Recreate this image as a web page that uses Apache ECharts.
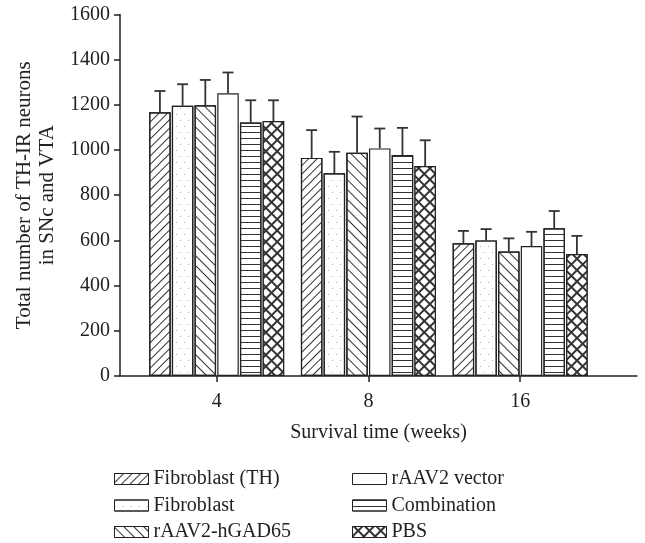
<!DOCTYPE html>
<html lang="en">
<head>
  <meta charset="UTF-8">
  <title>TH-IR neurons</title>
  <script src="https://cdn.jsdelivr.net/npm/echarts@6.0.0/dist/echarts.min.js"></script>
</head>
<body style="margin: 0">
  <div id="chart" style="width: 645px; height: 543px"></div>

  <script>
    // survival time (weeks), one x position per group
    let weeks = ['4', '8', '16']
    let groupPos = [1, 2, 3]
    let names = ['Fibroblast (TH)', 'Fibroblast', 'rAAV2-hGAD65', 'rAAV2 vector', 'Combination', 'PBS']

    // means and upper error (SEM)
    let fibroblastTH = [1167, 965, 587]
    let fibroblastTHErr = [94, 123, 55]
    let fibroblast = [1196, 897, 600]
    let fibroblastErr = [95, 95, 50]
    let gad65 = [1198, 988, 551]
    let gad65Err = [112, 160, 58]
    let vector = [1251, 1007, 575]
    let vectorErr = [92, 88, 63]
    let combination = [1122, 978, 654]
    let combinationErr = [98, 120, 76]
    let pbs = [1128, 929, 540]
    let pbsErr = [92, 114, 80]

    let yTicks = [0, 200, 400, 600, 800, 1000, 1200, 1400, 1600]

    let means = [fibroblastTH, fibroblast, gad65, vector, combination, pbs]
    let errs = [fibroblastTHErr, fibroblastErr, gad65Err, vectorErr, combinationErr, pbsErr]

    const BAR_W = 21.5
    const BAR_GAP = 1.2
    const CAP = 11
    const FONT = '"Liberation Serif", "Times New Roman", serif'

    // fill patterns (decals) for each group
    let decals = [
      { symbol: 'rect', symbolSize: 1, color: '#333', dashArrayX: [1, 0], dashArrayY: [1, 5], rotation: -Math.PI / 4 },
      { symbol: 'rect', symbolSize: 1, color: '#aaa', dashArrayX: [[1, 7], [0, 4, 1, 3]], dashArrayY: [1, 5] },
      { symbol: 'rect', symbolSize: 1, color: '#333', dashArrayX: [1, 0], dashArrayY: [1, 6], rotation: Math.PI / 4 },
      null,
      { symbol: 'rect', symbolSize: 1, color: '#333', dashArrayX: [1, 0], dashArrayY: [1, 5] },
      { symbol: 'rect', symbolSize: 1, color: '#fff', backgroundColor: '#333', dashArrayX: [6, 2], dashArrayY: [6, 2], rotation: Math.PI / 4 }
    ]

    let dom = document.getElementById('chart')
    let myChart = echarts.init(dom, null, { renderer: 'canvas' })

    let barSeries = names.map(function (name, k) {
      let style = { color: '#fff', borderColor: '#222', borderWidth: 1.2 }
      if (decals[k]) style.decal = decals[k]
      return {
        type: 'bar',
        name: name,
        data: groupPos.map(function (x, i) { return [x, means[k][i]] }),
        barWidth: BAR_W,
        barGap: (BAR_GAP / BAR_W * 100) + '%',
        itemStyle: style,
        emphasis: { disabled: true }
      }
    })

    // error bar rows: [x, mean, top, series index]
    let errRows = []
    names.forEach(function (name, k) {
      groupPos.forEach(function (x, i) {
        errRows.push([x, means[k][i], means[k][i] + errs[k][i], k])
      })
    })

    let errorSeries = {
      type: 'custom',
      name: 'error',
      data: errRows,
      encode: { x: 0, y: [1, 2] },
      z: 5,
      silent: true,
      renderItem: function (params, api) {
        let k = api.value(3)
        let base = api.coord([api.value(0), api.value(1)])
        let tip = api.coord([api.value(0), api.value(2)])
        let cx = base[0] + (k - (names.length - 1) / 2) * (BAR_W + BAR_GAP)
        let st = { stroke: '#333', lineWidth: 1.8 }
        return {
          type: 'group',
          children: [
            { type: 'line', shape: { x1: cx, y1: base[1], x2: cx, y2: tip[1] }, style: st },
            { type: 'line', shape: { x1: cx - CAP / 2, y1: tip[1], x2: cx + CAP / 2, y2: tip[1] }, style: st }
          ]
        }
      }
    }

    let legendCommon = {
      orient: 'vertical',
      icon: 'rect',
      padding: 0,
      height: 74,
      itemWidth: 34,
      itemHeight: 11,
      itemGap: 6.5,
      itemTextGap: 13,
      itemStyle: { borderWidth: 1 },
      textStyle: { fontFamily: FONT, fontSize: 20, color: '#222' },
      selectedMode: false
    }

    let option = {
      animation: false,
      backgroundColor: '#fff',
      grid: { left: 120, right: 8, top: 14.4, bottom: 167, outerBoundsMode: 'none' },
      legend: [
        Object.assign({}, legendCommon, { data: names.slice(0, 3), left: 114, top: 469 }),
        Object.assign({}, legendCommon, { data: names.slice(3), left: 352, top: 469 })
      ],
      xAxis: {
        type: 'value',
        min: 0.363,
        max: 3.77,
        name: 'Survival time (weeks)',
        nameLocation: 'middle',
        nameGap: 47,
        nameTextStyle: { fontFamily: FONT, fontSize: 20, color: '#222' },
        splitLine: { show: false },
        axisLine: { lineStyle: { color: '#222', width: 1.5 } },
        axisTick: { customValues: groupPos, length: 6, lineStyle: { color: '#222', width: 1.5 } },
        axisLabel: {
          customValues: groupPos,
          margin: 16,
          fontFamily: FONT, fontSize: 20, color: '#222',
          formatter: function (v) { return weeks[groupPos.indexOf(Math.round(v))] }
        }
      },
      yAxis: {
        type: 'value',
        min: yTicks[0],
        max: yTicks[yTicks.length - 1],
        interval: 200,
        name: 'Total number of TH-IR neurons\nin SNc and VTA',
        nameLocation: 'middle',
        nameGap: 57,
        nameTextStyle: { fontFamily: FONT, fontSize: 21, color: '#222', lineHeight: 23, align: 'center' },
        splitLine: { show: false },
        axisLine: { show: true, lineStyle: { color: '#222', width: 1.5 } },
        axisTick: { show: true, length: 6, lineStyle: { color: '#222', width: 1.5 } },
        axisLabel: {
          margin: 10, fontFamily: FONT, fontSize: 20, color: '#222',
          formatter: function (v) { return String(v) }
        }
      },
      series: barSeries.concat([errorSeries])
    }
    myChart.setOption(option)
  </script>
</body>
</html>
